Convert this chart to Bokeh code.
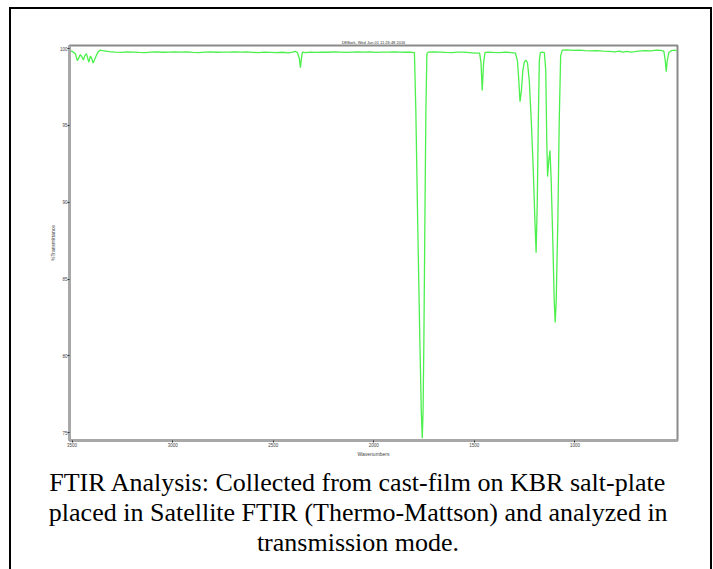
from bokeh.plotting import figure
from bokeh.models import Range1d, FixedTicker, Spacer, Title
from bokeh.layouts import column, row
from bokeh.embed import file_html
from bokeh.resources import INLINE

# ---- data ----
wavenumber = [
    3513, 3504, 3494, 3484, 3474, 3466, 3459, 3452, 3444, 3437, 3429, 3422, 3417, 3409,
    3402, 3396, 3390, 3380, 3370, 3360, 3350, 3335,
    3315, 3286, 3256, 3226, 3197, 3167, 3137, 3108, 3078, 3048, 3018, 2989, 2959, 2929,
    2900, 2870, 2840, 2811, 2781, 2751, 2722, 2692, 2662, 2633, 2603, 2573, 2544, 2514,
    2484, 2454, 2425,
    2405, 2390, 2380, 2370, 2365, 2360, 2355, 2340, 2316, 2286, 2256, 2226, 2197, 2167,
    2137, 2108, 2078, 2048, 2019, 1989, 1959, 1929, 1900, 1870, 1840, 1821,
    1798, 1791, 1781, 1771, 1764, 1759, 1755, 1751, 1746, 1741, 1736, 1729,
    1702, 1672, 1642, 1613, 1583, 1553, 1524, 1494, 1474, 1467, 1461, 1454, 1447,
    1434, 1405, 1375, 1345, 1316, 1296, 1286, 1279, 1273, 1266, 1259, 1251, 1244,
    1236, 1227, 1217, 1207, 1199, 1193, 1187, 1182, 1177, 1172, 1162, 1152, 1145,
    1140, 1136, 1130, 1124, 1118, 1110, 1103, 1098, 1093, 1085, 1078, 1071, 1063,
    1038, 1009, 979, 949, 920, 890, 860, 830, 801, 781, 761, 741, 722, 702, 682,
    652, 623, 593, 573, 558, 551, 546, 541, 533, 519, 504, 494,
]
transmittance = [
    99.80, 99.84, 99.77, 99.67, 99.22, 99.41, 99.61, 99.48, 99.25, 99.54, 99.67, 99.35, 99.12, 99.51,
    99.35, 99.06, 99.22, 99.54, 99.80, 99.90, 99.87, 99.84,
    99.80, 99.77, 99.75, 99.79, 99.77, 99.75, 99.74, 99.77, 99.78, 99.76, 99.77, 99.79, 99.77, 99.79,
    99.75, 99.74, 99.77, 99.78, 99.76, 99.77, 99.77, 99.79, 99.77, 99.78, 99.75, 99.74, 99.77, 99.75,
    99.73, 99.76, 99.72,
    99.77, 99.82, 99.74, 99.35, 98.76, 99.35, 99.77, 99.74, 99.77, 99.75, 99.77, 99.76, 99.78, 99.77,
    99.75, 99.77, 99.79, 99.77, 99.78, 99.75, 99.77, 99.77, 99.79, 99.77, 99.76, 99.77,
    99.74, 95.96, 88.15, 80.99, 76.43, 74.64, 76.43, 80.99, 88.80, 95.96, 99.67, 99.77,
    99.79, 99.77, 99.75, 99.74, 99.77, 99.77, 99.74, 99.71, 99.71, 99.09, 97.27, 99.09, 99.74,
    99.77, 99.75, 99.74, 99.77, 99.74, 99.71, 99.22, 97.92, 96.55, 97.27, 98.57, 99.15, 99.25,
    99.09, 97.92, 95.31, 92.06, 88.80, 86.72, 90.10, 95.31, 99.22, 99.74, 99.77, 99.74, 98.57,
    94.01, 91.67, 92.71, 93.36, 91.41, 87.50, 83.60, 82.18, 83.60, 88.80, 95.31, 99.54, 99.90,
    99.92, 99.88, 99.90, 99.87, 99.85, 99.87, 99.84, 99.82, 99.79, 99.84, 99.77, 99.82, 99.77, 99.80, 99.84,
    99.87, 99.85, 99.90, 99.88, 99.84, 99.22, 98.50, 99.22, 99.74, 99.87, 99.90, 99.84,
]
x_ticks = [3500, 3000, 2500, 2000, 1500, 1000]
y_ticks = [75, 80, 85, 90, 95, 100]
chart_title = "DEBork, Wed Jun 01 11:26:48 2016"
x_label = "Wavenumbers"
y_label = "%Transmittance"
caption_lines = [
    "FTIR Analysis: Collected from cast-film on KBR salt-plate",
    "placed in Satellite FTIR (Thermo-Mattson) and analyzed in",
    "transmission mode.",
]

MB_LEFT, MB_RIGHT = 58, 33

# ---- spectrum figure ----
p = figure(
    width=699, height=457, output_backend="svg", toolbar_location=None,
    x_range=Range1d(3513, 490), y_range=Range1d(74.5, 100.2),
    min_border_left=MB_LEFT, min_border_right=MB_RIGHT, min_border_top=36, min_border_bottom=26,
    title=chart_title,
)
p.title.text_font_size = "4px"
p.title.text_color = "#333333"
p.title.align = "center"
p.title.standoff = 1
p.title.text_font_style = "normal"

p.outline_line_color = "#8a8a8a"
p.outline_line_width = 2
p.grid.visible = False

for ax in (p.xaxis[0], p.yaxis[0]):
    ax.axis_line_color = "#a8a8a8"
    ax.axis_line_width = 3
    ax.major_tick_in = 0
    ax.major_tick_out = 2
    ax.major_tick_line_color = "#333333"
    ax.minor_tick_line_color = None
    ax.major_label_text_font_size = "4.5px"
    ax.major_label_text_color = "#444444"
    ax.major_label_standoff = 0
    ax.axis_label_text_font_size = "5px"
    ax.axis_label_text_color = "#444444"
    ax.axis_label_text_font_style = "normal"
    ax.axis_label_standoff = 1

p.xaxis.ticker = FixedTicker(ticks=x_ticks)
p.yaxis.ticker = FixedTicker(ticks=y_ticks)
p.xaxis.axis_label = x_label
p.yaxis.axis_label = y_label

p.line(wavenumber, transmittance, line_color="#4cf04c", line_width=1.3)

# ---- caption figure (titles only) ----
cap = figure(width=699, height=103, output_backend="svg", toolbar_location=None,
             x_axis_type=None, y_axis_type=None, title=None,
             min_border_left=MB_LEFT, min_border_right=MB_RIGHT,
             min_border_top=0, min_border_bottom=0)
cap.outline_line_color = None
cap.grid.visible = False
# left offsets (from the frame's left edge) that centre each line on the caption block
caption_offsets = [-20.25, -20.65, 187.4]
for line, off in reversed(list(zip(caption_lines, caption_offsets))):
    cap.add_layout(Title(text=line, align="left", offset=off, standoff=-1,
                         text_font="Liberation Serif", text_font_size="26px",
                         text_font_style="normal", text_color="#000000"), "above")

# ---- black border (top, left, right) and page offset ----
black = {"background-color": "#000000"}
top_bar = Spacer(width=703, height=2, styles=black)
left_bar = Spacer(width=2, height=560, styles=black)
right_bar = Spacer(width=2, height=560, styles=black)

boxed = column(top_bar, row(left_bar, column(p, cap), right_bar))
layout = column(Spacer(width=712, height=7), row(Spacer(width=9, height=562), boxed))

open("out.html", "w").write(file_html(layout, INLINE))
